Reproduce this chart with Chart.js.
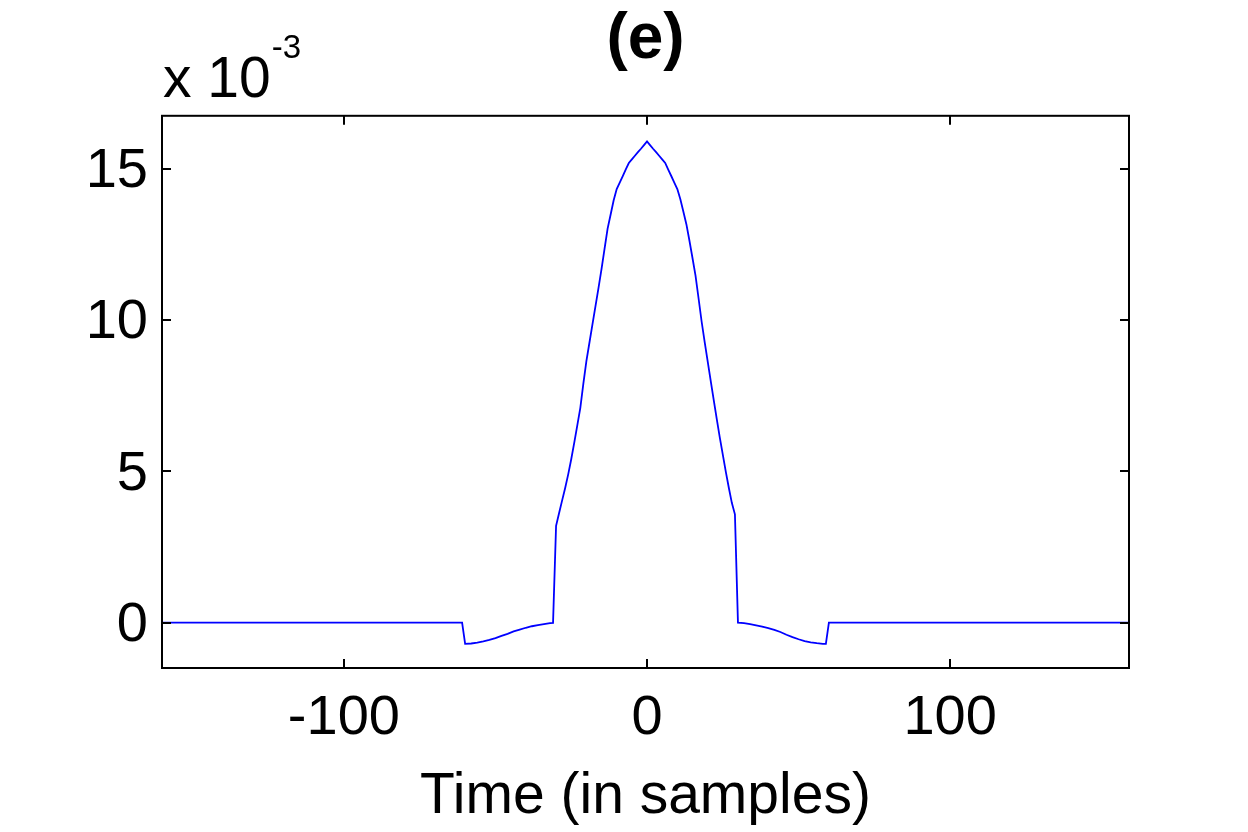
<!DOCTYPE html>
<html>
<head>
<meta charset="utf-8">
<script src="https://cdn.jsdelivr.net/npm/chart.js@4.4.1/dist/chart.umd.min.js"></script>
<style>
  html, body { margin: 0; padding: 0; background: #fff; }
  #wrap { width: 1248px; height: 832px; position: relative; }
</style>
</head>
<body>
<div id="wrap"><canvas id="pulse"></canvas></div>
<script>
// sample index (time in samples)
var timeSamples = [-160, -61,
    -60, -58, -56, -54, -52, -50, -48, -46, -44, -42, -40, -38, -36, -34, -32, -31,
    -30, -29, -28, -27, -26, -25, -24, -23, -22, -21, -20, -19, -18, -17, -16,
    -15, -14, -13, -12, -11, -10, -9, -8, -7, -6, -5, -4, -3, -2, -1, 0,
    1, 2, 3, 4, 5, 6, 7, 8, 9, 10, 11, 12, 13, 14, 15,
    16, 17, 18, 19, 20, 21, 22, 23, 24, 25, 26, 27, 28, 29,
    30, 32, 34, 36, 38, 40, 42, 44, 46, 48, 50, 52, 54, 56, 58, 59,
    60, 159];
// amplitude, in units of 1e-3
var amplitude = [0, 0,
    -0.70, -0.69, -0.66, -0.62, -0.57, -0.51, -0.44, -0.37, -0.29, -0.23, -0.17, -0.12, -0.08, -0.05, -0.02, -0.01,
    3.20, 3.62, 4.04, 4.45, 4.90, 5.40, 5.95, 6.52, 7.10, 7.90, 8.64, 9.25, 9.86, 10.46, 11.06,
    11.69, 12.36, 13.02, 13.49, 13.96, 14.33, 14.54, 14.76, 14.98, 15.19, 15.31, 15.43, 15.55, 15.66, 15.78, 15.90,
    15.78, 15.66, 15.55, 15.43, 15.31, 15.19, 14.97, 14.76, 14.54, 14.33, 13.99, 13.58, 13.16, 12.62, 12.05,
    11.47, 10.72, 9.96, 9.29, 8.64, 8.00, 7.36, 6.73, 6.12, 5.55, 4.98, 4.45, 3.95, 3.58,
    0, -0.02, -0.05, -0.09, -0.13, -0.18, -0.24, -0.31, -0.40, -0.48, -0.55, -0.61, -0.65, -0.68, -0.70, -0.70,
    0, 0];

var xTicks = [-100, 0, 100];
var yTicks = [0, 5, 10, 15];

var FONT = "'Liberation Sans', Arial, Helvetica, sans-serif";
Chart.defaults.font.family = FONT;
Chart.defaults.color = '#000';

// box round the plot + inward tick marks (matlab style), and the x 10^-3 factor
var matlabBox = {
    id: 'matlabBox',
    afterDraw: function (chart) {
        var ctx = chart.ctx, a = chart.chartArea;
        var xs = chart.scales.x, ys = chart.scales.y;
        var len = 9;
        ctx.save();
        ctx.strokeStyle = '#000';
        ctx.lineWidth = 2;
        ctx.beginPath();
        xTicks.forEach(function (v) {
            var px = Math.round(xs.getPixelForValue(v));
            ctx.moveTo(px, a.bottom); ctx.lineTo(px, a.bottom - len);
            ctx.moveTo(px, a.top); ctx.lineTo(px, a.top + len);
        });
        yTicks.forEach(function (v) {
            var py = Math.round(ys.getPixelForValue(v));
            ctx.moveTo(a.left, py); ctx.lineTo(a.left + len, py);
            ctx.moveTo(a.right, py); ctx.lineTo(a.right - len, py);
        });
        ctx.stroke();
        ctx.strokeRect(a.left, a.top, a.right - a.left, a.bottom - a.top);

        // exponent label above the y axis
        ctx.fillStyle = '#000';
        ctx.textAlign = 'left';
        ctx.textBaseline = 'alphabetic';
        ctx.font = '57px ' + FONT;
        ctx.fillText('x 10', a.left + 1, a.top - 19);
        var w = ctx.measureText('x 10').width;
        ctx.font = '33px ' + FONT;
        ctx.fillText('-3', a.left + 2 + w, a.top - 58);
        ctx.restore();
    }
};

var points = timeSamples.map(function (t, i) { return { x: t, y: amplitude[i] }; });

var ctx = document.getElementById('pulse').getContext('2d');
var myChart = new Chart(ctx, {
    type: 'line',
    data: {
        datasets: [{
            data: points,
            borderColor: '#0000ff',
            borderWidth: 1.8,
            pointRadius: 0,
            tension: 0,
            fill: false
        }]
    },
    options: {
        responsive: true,
        maintainAspectRatio: false,
        animation: false,
        events: [],
        layout: { padding: { left: 0, top: 0, bottom: 0, right: 119 } },
        plugins: {
            legend: { display: false },
            tooltip: { enabled: false },
            title: {
                display: true,
                text: '(e)',
                fullSize: false,
                color: '#000',
                font: { size: 64, weight: 'bold' },
                padding: { top: 2, bottom: 37 }
            }
        },
        scales: {
            x: {
                type: 'linear',
                min: -160,
                max: 159,
                grid: { display: false, drawTicks: false },
                border: { display: false },
                afterBuildTicks: function (scale) {
                    scale.ticks = xTicks.map(function (v) { return { value: v }; });
                },
                afterFit: function (scale) { scale.height = 164; },
                ticks: {
                    font: { size: 56 },
                    color: '#000',
                    padding: 17,
                    maxRotation: 0
                },
                title: {
                    display: true,
                    text: 'Time (in samples)',
                    color: '#000',
                    font: { size: 57 },
                    padding: { top: 0, bottom: 1 }
                }
            },
            y: {
                min: -1.5,
                max: 16.75,
                grid: { display: false, drawTicks: false },
                border: { display: false },
                afterBuildTicks: function (scale) {
                    scale.ticks = yTicks.map(function (v) { return { value: v }; });
                },
                afterFit: function (scale) { scale.width = 162; },
                ticks: {
                    font: { size: 56 },
                    color: '#000',
                    padding: 14,
                    labelOffset: 3
                }
            }
        }
    },
    plugins: [matlabBox]
});
</script>
</body>
</html>
